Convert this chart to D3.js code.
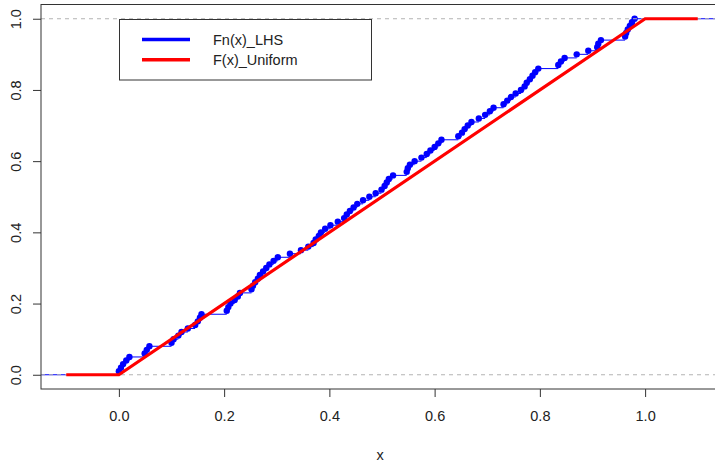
<!DOCTYPE html>
<html>
<head>
<meta charset="utf-8">
<script src="https://cdn.jsdelivr.net/npm/d3@7"></script>
<style>
  body { margin: 0; background: #fff; }
  svg { display: block; }
  text { font-family: "Liberation Sans", Arial, sans-serif; fill: #222; }
</style>
</head>
<body>
<div id="chart"></div>
<script>
// LHS sample values, sorted
var sampleLHS = [
  0.000, 0.004, 0.008, 0.014, 0.020, 0.049, 0.053, 0.058, 0.100, 0.104,
  0.113, 0.119, 0.131, 0.145, 0.150, 0.154, 0.157, 0.205, 0.208, 0.212,
  0.220, 0.226, 0.230, 0.252, 0.255, 0.259, 0.264, 0.268, 0.274, 0.280,
  0.286, 0.294, 0.302, 0.325, 0.346, 0.360, 0.370, 0.374, 0.380, 0.384,
  0.392, 0.402, 0.416, 0.428, 0.433, 0.439, 0.446, 0.453, 0.464, 0.476,
  0.488, 0.499, 0.505, 0.509, 0.513, 0.521, 0.547, 0.549, 0.553, 0.562,
  0.575, 0.585, 0.592, 0.600, 0.607, 0.613, 0.645, 0.652, 0.657, 0.663,
  0.670, 0.684, 0.696, 0.705, 0.712, 0.731, 0.738, 0.745, 0.754, 0.764,
  0.771, 0.775, 0.781, 0.786, 0.791, 0.797, 0.835, 0.840, 0.847, 0.870,
  0.892, 0.909, 0.911, 0.916, 0.962, 0.964, 0.967, 0.971, 0.975, 0.980
];
// uniform cdf breakpoints
var unifX = [-0.1, 0, 1, 1.1];
var unifY = [0, 0, 1, 1];

var xTicks = [0, 0.2, 0.4, 0.6, 0.8, 1.0];
var yTicks = [0, 0.2, 0.4, 0.6, 0.8, 1.0];
var legendLabels = ["Fn(x)_LHS", "F(x)_Uniform"];
var legendColors = ["blue", "red"];

var width = 715, height = 464;
var box = {left: 41, right: 723, top: 4.5, bottom: 389};

var svg = d3.select("#chart").append("svg")
    .attr("width", width)
    .attr("height", height);

var xScale = d3.scaleLinear().domain([-0.148, 1.148]).range([box.left, box.right]);
var yScale = d3.scaleLinear().domain([-0.04, 1.04]).range([box.bottom, box.top]);

// ecdf points
var n = sampleLHS.length;
var ecdf = sampleLHS.map(function(v, i) { return {x: v, y: (i + 1) / n}; });

// horizontal step segments
var segs = [{x0: -0.148, x1: ecdf[0].x, y: 0}];
ecdf.forEach(function(d, i) {
    var next = i < n - 1 ? ecdf[i + 1].x : 1.148;
    segs.push({x0: d.x, x1: next, y: d.y});
});

svg.append("g").selectAll("line")
    .data(segs)
    .enter()
    .append("line")
    .attr("x1", d => xScale(d.x0))
    .attr("x2", d => xScale(d.x1))
    .attr("y1", d => yScale(d.y))
    .attr("y2", d => yScale(d.y))
    .attr("stroke", "blue")
    .attr("stroke-width", 1);

svg.append("g").selectAll("circle")
    .data(ecdf)
    .enter()
    .append("circle")
    .attr("cx", d => xScale(d.x))
    .attr("cy", d => yScale(d.y))
    .attr("r", 3.2)
    .attr("fill", "blue");

// dashed 0/1 lines
svg.append("g").selectAll("line")
    .data([0, 1])
    .enter()
    .append("line")
    .attr("x1", box.left)
    .attr("x2", box.right)
    .attr("y1", d => yScale(d))
    .attr("y2", d => yScale(d))
    .attr("stroke", "#b3b3b3")
    .attr("stroke-width", 1)
    .attr("stroke-dasharray", "4,4");

// uniform cdf
var line = d3.line().x(d => xScale(d[0])).y(d => yScale(d[1]));
svg.append("path")
    .datum(d3.zip(unifX, unifY))
    .attr("d", line)
    .attr("fill", "none")
    .attr("stroke", "red")
    .attr("stroke-width", 3.2);

// frame
svg.append("rect")
    .attr("x", box.left)
    .attr("y", box.top)
    .attr("width", box.right - box.left)
    .attr("height", box.bottom - box.top)
    .attr("fill", "none")
    .attr("stroke", "#333")
    .attr("stroke-width", 1);

// axes
var xAxis = svg.append("g")
    .attr("transform", `translate(0, ${box.bottom})`)
    .call(d3.axisBottom(xScale).tickValues(xTicks).tickFormat(d3.format(".1f")).tickSize(8));
xAxis.select(".domain").remove();
xAxis.selectAll("line").attr("stroke", "#333");
xAxis.selectAll("text")
    .attr("y", 32).attr("dy", 0)
    .style("font-size", "14.5px")
    .style("fill", "#222");

var yAxis = svg.append("g")
    .attr("transform", `translate(${box.left}, 0)`)
    .call(d3.axisLeft(yScale).tickValues(yTicks).tickFormat(d3.format(".1f")).tickSize(8));
yAxis.select(".domain").remove();
yAxis.selectAll("line").attr("stroke", "#333");
yAxis.selectAll("text")
    .attr("transform", "rotate(-90)")
    .attr("x", 0).attr("y", -20.5).attr("dy", 0)
    .attr("text-anchor", "middle")
    .style("font-size", "14.5px")
    .style("fill", "#222");

// x label
svg.append("text")
    .attr("x", (box.left + box.right) / 2 - 2)
    .attr("y", 460)
    .attr("text-anchor", "middle")
    .style("font-size", "14.5px")
    .text("x");

// legend
var legend = svg.append("g");
legend.append("rect")
    .attr("x", 119.5).attr("y", 19.5)
    .attr("width", 252).attr("height", 60.5)
    .attr("fill", "#fff")
    .attr("stroke", "#333");
legendLabels.forEach(function(lab, i) {
    var ly = 39.5 + i * 20.3;
    legend.append("line")
        .attr("x1", 142).attr("x2", 190)
        .attr("y1", ly).attr("y2", ly)
        .attr("stroke", legendColors[i])
        .attr("stroke-width", 3.5);
    legend.append("text")
        .attr("x", 213).attr("y", ly + 5)
        .style("font-size", "14.5px")
        .text(lab);
});
</script>
</body>
</html>
